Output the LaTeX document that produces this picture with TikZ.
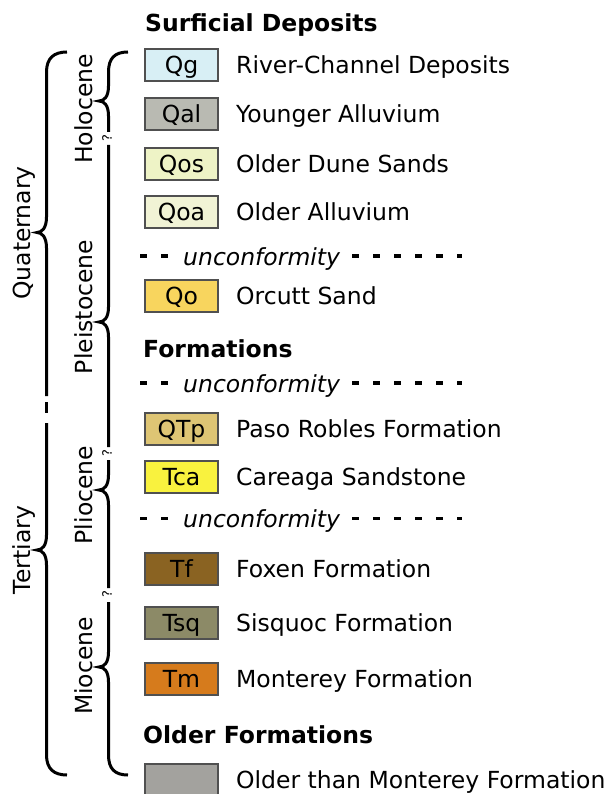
\documentclass[tikz,border=0pt]{standalone}
\usepackage{fontspec}
\setmainfont{DejaVu Sans}
\definecolor{boxline}{HTML}{505050}
\definecolor{cQg}{HTML}{D8EFF5}
\definecolor{cQal}{HTML}{B9BAB2}
\definecolor{cQos}{HTML}{EEF3C6}
\definecolor{cQoa}{HTML}{F1F3D5}
\definecolor{cQo}{HTML}{F8D55E}
\definecolor{cQTp}{HTML}{DEC574}
\definecolor{cTca}{HTML}{F9F23E}
\definecolor{cTf}{HTML}{8A6322}
\definecolor{cTsq}{HTML}{8C8A67}
\definecolor{cTm}{HTML}{D67B1C}
\definecolor{cOld}{HTML}{A3A29E}
\tikzset{
 txt/.style={font=\fontsize{23.5}{28}\selectfont, inner sep=0pt},
 unitbox/.style={txt, draw=boxline, line width=2pt, minimum width=73pt, minimum height=32pt, text height=17pt, text depth=0pt},
 desc/.style={txt, anchor=west, text height=17pt, text depth=0pt},
 heading/.style={txt, font=\fontsize{23.5}{28}\selectfont\bfseries, anchor=base west},
 unctext/.style={txt, font=\fontsize{23.5}{28}\selectfont\itshape, anchor=base west},
 dashline/.style={line width=3.3pt, dash pattern=on 7pt off 14pt},
 bracepath/.style={line width=3pt},
 era/.style={txt, rotate=90, anchor=base},
 qmark/.style={font=\fontsize{13}{14}\selectfont, inner sep=0pt, rotate=90},
}
\begin{document}
\begin{tikzpicture}[x=1pt,y=-1pt]
\useasboundingbox (0,0) rectangle (610,794);

% headings
\node[heading] (hSurf) at (145,32) {Surficial Deposits};
\node[heading] (hForm) at (143,357) {Formations};
\node[heading] (hOld) at (143,743) {Older Formations};

% units
\node[unitbox, fill=cQg] (Qg) at (181.5,65) {Qg};
\node[desc] (dQg) at (236,65) {River-Channel Deposits};
\node[unitbox, fill=cQal] (Qal) at (181.5,114.5) {Qal};
\node[desc] (dQal) at (236,114.5) {Younger Alluvium};
\node[unitbox, fill=cQos] (Qos) at (181.5,164.5) {Qos};
\node[desc] (dQos) at (236,164.5) {Older Dune Sands};
\node[unitbox, fill=cQoa] (Qoa) at (181.5,212.5) {Qoa};
\node[desc] (dQoa) at (236,212.5) {Older Alluvium};
\node[unitbox, fill=cQo] (Qo) at (181.5,295.5) {Qo};
\node[desc] (dQo) at (236,295.5) {Orcutt Sand};
\node[unitbox, fill=cQTp] (QTp) at (181.5,429) {QTp};
\node[desc] (dQTp) at (236,429) {Paso Robles Formation};
\node[unitbox, fill=cTca] (Tca) at (181.5,476.5) {Tca};
\node[desc] (dTca) at (236,476.5) {Careaga Sandstone};
\node[unitbox, fill=cTf] (Tf) at (181.5,568.5) {Tf};
\node[desc] (dTf) at (236,568.5) {Foxen Formation};
\node[unitbox, fill=cTsq] (Tsq) at (181.5,623) {Tsq};
\node[desc] (dTsq) at (236,623) {Sisquoc Formation};
\node[unitbox, fill=cTm] (Tm) at (181.5,678.5) {Tm};
\node[desc] (dTm) at (236,678.5) {Monterey Formation};
\node[unitbox, fill=cOld] (Old) at (181.5,780) {};
\node[desc] (dOld) at (236,780) {Older than Monterey Formation};

% unconformities
\foreach \n/\yb in {1/265, 2/392, 3/527.5} {
  \node[unctext] (unc\n) at (183,\yb) {unconformity};
  \coordinate (ua\n) at (140,\yb-9);
  \coordinate (ub\n) at (168,\yb-9);
  \coordinate (uc\n) at (352,\yb-9);
  \coordinate (ud\n) at (462,\yb-9);
  \draw[dashline] (ua\n) -- (ub\n);
  \draw[dashline] (uc\n) -- (ud\n);
}

% outer braces
\draw[bracepath] (67,52) .. controls (54,52) and (46.5,58) .. (46.5,72)
  -- (46.5,217) .. controls (46.5,228) and (42,232.5) .. (37,232.5)
  .. controls (42,232.5) and (46.5,237) .. (46.5,248) -- (46.5,396);
\draw[bracepath] (46.5,402) -- (46.5,413);
\draw[bracepath] (46.5,423)
  -- (46.5,535) .. controls (46.5,546) and (42,550) .. (37,550)
  .. controls (42,550) and (46.5,554) .. (46.5,565)
  -- (46.5,755) .. controls (46.5,769) and (54,775) .. (67,775);

% inner braces
\draw[bracepath] (128,52) .. controls (115,52) and (108.5,58) .. (108.5,72)
  -- (108.5,86) .. controls (108.5,97) and (104,101) .. (99,101)
  .. controls (104,101) and (108.5,105) .. (108.5,116) -- (108.5,132);
\node[qmark] (q1) at (107,138.5) {?};
\draw[bracepath] (108.5,145)
  -- (108.5,307) .. controls (108.5,318) and (104,322) .. (99,322)
  .. controls (104,322) and (108.5,326) .. (108.5,337) -- (108.5,447);
\node[qmark] (q2) at (107,453) {?};
\draw[bracepath] (108.5,460)
  -- (108.5,475) .. controls (108.5,486) and (104,490) .. (99,490)
  .. controls (104,490) and (108.5,494) .. (108.5,505) -- (108.5,588);
\node[qmark] (q3) at (107,594.5) {?};
\draw[bracepath] (108.5,602)
  -- (108.5,652) .. controls (108.5,663) and (104,667) .. (99,667)
  .. controls (104,667) and (108.5,671) .. (108.5,682)
  -- (108.5,755) .. controls (108.5,769) and (115,775) .. (128,775);

% period / epoch labels
\node[era] (quat) at (30,233) {Quaternary};
\node[era] (tert) at (30,550) {Tertiary};
\node[era] (holo) at (92,109) {Holocene};
\node[era] (pleis) at (92,307) {Pleistocene};
\node[era] (plio) at (92,495) {Pliocene};
\node[era] (mio) at (92,666) {Miocene};
\end{tikzpicture}
\end{document}
